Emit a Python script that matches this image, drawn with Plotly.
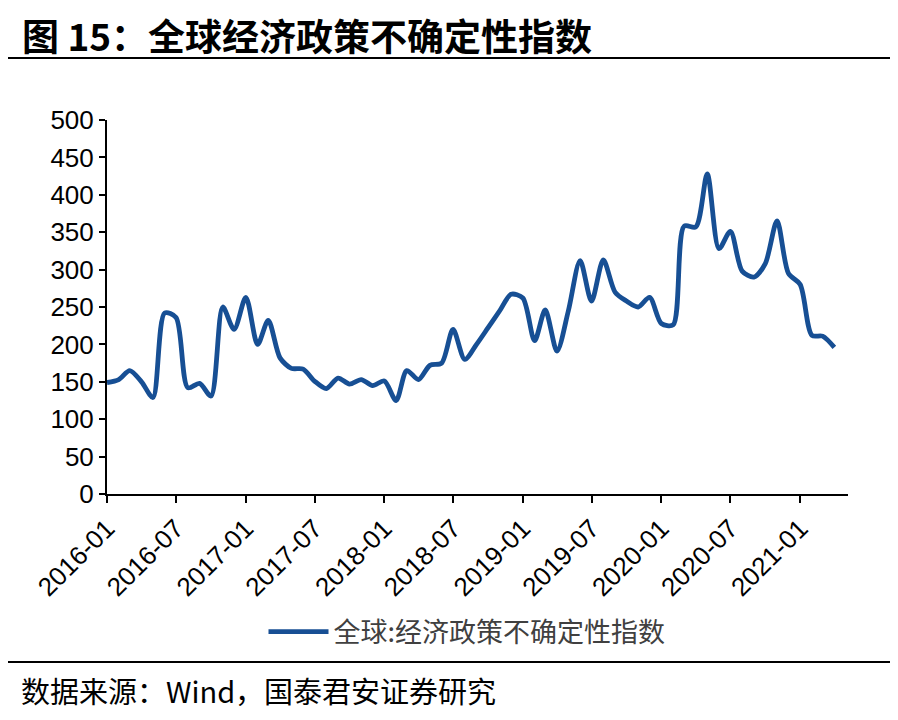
import pandas as pd
import plotly.graph_objects as go

# ---- data ----
start_month = "2016-01-01"
values = [149, 153, 165, 150, 129, 242, 236, 142, 148, 131,
          250, 220, 263, 200, 232, 182, 168, 167, 151, 141,
          155, 147, 153, 145, 151, 125, 165, 153, 172, 175,
          220, 180, 200, 222, 245, 267, 262, 205, 246, 191,
          245, 312, 258, 313, 270, 258, 250, 263, 228, 226,
          358, 357, 428, 328, 351, 298, 290, 308, 365, 295,
          280, 212, 211, 196]
dates = pd.date_range(start_month, periods=len(values), freq="MS")
y_ticks = [0, 50, 100, 150, 200, 250, 300, 350, 400, 450, 500]
series_name = "全球:经济政策不确定性指数"
title_text = "图 15：全球经济政策不确定性指数"
source_text = "数据来源：Wind，国泰君安证券研究"

# ---- layout geometry (reference pixels; page body has an 8px margin) ----
OFF = 8
W, H = 898 - 2 * OFF, 720 - 2 * OFF
L, R, T, B = 107 - OFF, 848 - OFF, 120 - OFF, 494 - OFF
pw, ph = R - L, B - T


def px(x):
    return (x - OFF - L) / pw


def py(y):
    return (B - (y - OFF)) / ph


CJK = "Noto Sans CJK SC"
LAT = "Liberation Sans"

fig = go.Figure()
fig.add_trace(go.Scatter(
    x=dates, y=values, mode="lines", name=series_name,
    line=dict(color="#174F94", width=4.8, shape="spline", smoothing=0.8),
))

fig.update_layout(
    width=W, height=H, autosize=False,
    margin=dict(l=L, r=W - R, t=T, b=H - B),
    plot_bgcolor="white", paper_bgcolor="white",
    showlegend=True,
    legend=dict(orientation="h", x=px(467), xanchor="center",
                y=py(632), yanchor="middle", itemwidth=60,
                font=dict(family=CJK, size=27, color="#404040"),
                bgcolor="rgba(0,0,0,0)"),
    xaxis=dict(
        type="date",
        range=["2016-01-01", "2021-05-07"],
        tick0="2016-01-01", dtick="M6", tickformat="%Y-%m",
        tickangle=-45,
        showline=True, linecolor="black", linewidth=2,
        ticks="outside", ticklen=7, tickwidth=2, tickcolor="black",
        showgrid=False, zeroline=False, automargin=False,
        tickfont=dict(family=LAT, size=26, color="black"),
    ),
    yaxis=dict(
        range=[0, 500], tickvals=y_ticks,
        showline=True, linecolor="black", linewidth=2,
        ticks="outside", ticklen=6, tickwidth=2, tickcolor="black",
        showgrid=False, zeroline=False, automargin=False,
        tickfont=dict(family=LAT, size=26, color="black"),
    ),
)

# title, separators, source
fig.add_annotation(text="<b>" + title_text + "</b>", xref="paper", yref="paper",
                   x=px(20), y=py(35), xanchor="left", yanchor="middle",
                   showarrow=False, font=dict(family=CJK, size=37, color="black"))
fig.add_shape(type="line", xref="paper", yref="paper",
              x0=px(5), x1=px(898), y0=py(58), y1=py(58),
              line=dict(color="black", width=2))
fig.add_shape(type="line", xref="paper", yref="paper",
              x0=px(5), x1=px(898), y0=py(662), y1=py(662),
              line=dict(color="black", width=2))
fig.add_annotation(text=source_text, xref="paper", yref="paper",
                   x=px(20), y=py(690), xanchor="left", yanchor="middle",
                   showarrow=False, borderpad=0,
                   font=dict(family=CJK, size=29, color="black"))

fig.write_html("out.html")
